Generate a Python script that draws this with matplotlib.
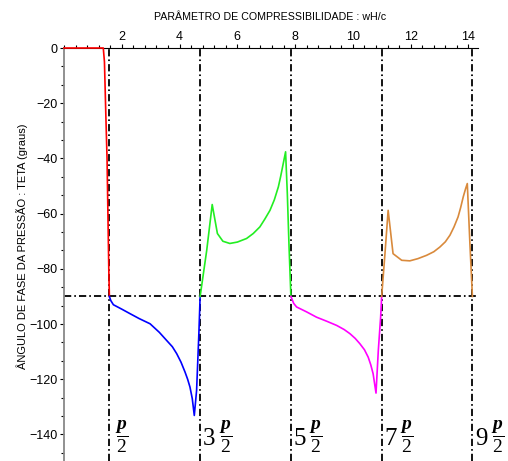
import matplotlib
matplotlib.use("Agg")
import numpy as np
import matplotlib.pyplot as plt
from matplotlib.ticker import MultipleLocator, AutoMinorLocator

plt.rcParams['font.family'] = ['Liberation Sans', 'DejaVu Sans']
plt.rcParams['mathtext.fontset'] = 'custom'
plt.rcParams['mathtext.rm'] = 'Liberation Serif'
plt.rcParams['mathtext.it'] = 'Liberation Serif:italic:bold'

# curve segments
red_x = [0.0, 1.36, 1.40, 1.42, 1.45, 1.49, 1.52, 1.55, 1.571]
red_y = [0.0, 0.0, -5, -13, -25, -40, -60, -80, -90]

blue_x = [1.571, 1.62, 1.71, 2.0, 2.28, 2.6, 2.98, 3.3, 3.55, 3.75, 3.90, 4.05, 4.19, 4.28, 4.36, 4.44, 4.51, 4.59, 4.67, 4.712]
blue_y = [-90, -91.5, -93, -94.6, -96.2, -98.0, -99.9, -103.0, -105.9, -108.2, -110.7, -113.8, -117.4, -120, -122.8, -127, -133.1, -124, -103, -90]

green_x = [4.712, 4.94, 5.13, 5.31, 5.5, 5.74, 6.0, 6.32, 6.55, 6.78, 6.95, 7.13, 7.28, 7.42, 7.5, 7.59, 7.67, 7.73, 7.79, 7.854]
green_y = [-90, -73.3, -56.7, -67.2, -70, -70.8, -70.3, -69.0, -67.2, -64.8, -62.0, -58.8, -55, -50.3, -46.5, -41.8, -37.6, -52.7, -72, -90]

mag_x = [7.854, 7.95, 8.05, 8.4, 8.74, 9.1, 9.44, 9.7, 9.90, 10.08, 10.24, 10.4, 10.53, 10.62, 10.70, 10.80, 10.88, 10.96, 10.996]
mag_y = [-90, -92.5, -93.8, -95.6, -97.5, -99.0, -100.5, -102, -103.5, -105.2, -107.1, -109.3, -112.0, -114.8, -118, -125, -109.5, -97.5, -90]

orange_x = [10.996, 11.11, 11.22, 11.39, 11.69, 11.97, 12.25, 12.55, 12.8, 13.01, 13.2, 13.36, 13.5, 13.64, 13.73, 13.82, 13.9, 13.96, 14.05, 14.137]
orange_y = [-90, -74.5, -58.8, -74.5, -76.9, -77.1, -76.3, -75.1, -73.8, -72.1, -70.2, -67.8, -64.8, -61.2, -57.8, -53.9, -51, -49.1, -70.8, -90]

# odd multiples of pi/2 (the Symbol font pi shows as "p" in the original)
multiples = [1, 3, 5, 7, 9]
prefixes = ['', '3', '5', '7', '9']

fig = plt.figure(figsize=(5.08, 4.61), dpi=100)
ax = fig.add_axes([64/508, 0.0, (477.7-64)/508, (461-48)/461])

ax.set_xlim(0, 14.32)
ax.set_ylim(-149.6, 0)

dash = (4, 1.7, 0.9, 1.7)
for m in multiples:
    ax.axvline(m*np.pi/2, color='black', lw=1.3, dashes=dash)
ax.axhline(-90, color='black', lw=1.3, dashes=dash)

segs = [(red_x, red_y, '#ff0000'), (blue_x, blue_y, '#0000ff'),
        (green_x, green_y, '#22ee22'), (mag_x, mag_y, '#ff00ff'),
        (orange_x, orange_y, '#d98a3c')]
for xs, ys, c in segs:
    ax.plot(xs, ys, color=c, lw=1.2, clip_on=False, zorder=3)

for m, pre in zip(multiples, prefixes):
    xl = m*np.pi/2
    if pre:
        ax.text(xl + 0.1, -141.7, pre, fontsize=18, family='Liberation Serif',
                ha='left', va='center')
        ax.text(xl + 0.64, -140.9, r'$\dfrac{p}{2}$', fontsize=14, ha='left', va='center')
    else:
        ax.text(xl + 0.2, -140.9, r'$\dfrac{p}{2}$', fontsize=14, ha='left', va='center')

ax.spines['bottom'].set_visible(False)
ax.spines['right'].set_visible(False)
ax.spines['top'].set_color('black')
ax.spines['left'].set_color('#888888')
ax.spines['left'].set_linewidth(1.3)
ax.xaxis.tick_top()
ax.set_xticks([2, 4, 6, 8, 10, 12, 14])
ax.xaxis.set_minor_locator(AutoMinorLocator(5))
ax.yaxis.set_major_locator(MultipleLocator(20))
ax.yaxis.set_minor_locator(AutoMinorLocator(3))
ax.tick_params(axis='both', which='major', length=3, width=0.8, labelsize=9, pad=1.5)
ax.tick_params(axis='x', which='major', pad=0.5)
ax.tick_params(axis='both', which='minor', length=2, width=0.8)

fig.text(270/508, 1 - 17/461, 'PARÂMETRO DE COMPRESSIBILIDADE : wH/c', fontsize=7.7,
         ha='center', va='center')
fig.text(22/508, 1 - 246/461, 'ÂNGULO DE FASE DA PRESSÃO : TETA (graus)', fontsize=8,
         ha='center', va='center', rotation=90)

fig.savefig('out.png', dpi=100)
